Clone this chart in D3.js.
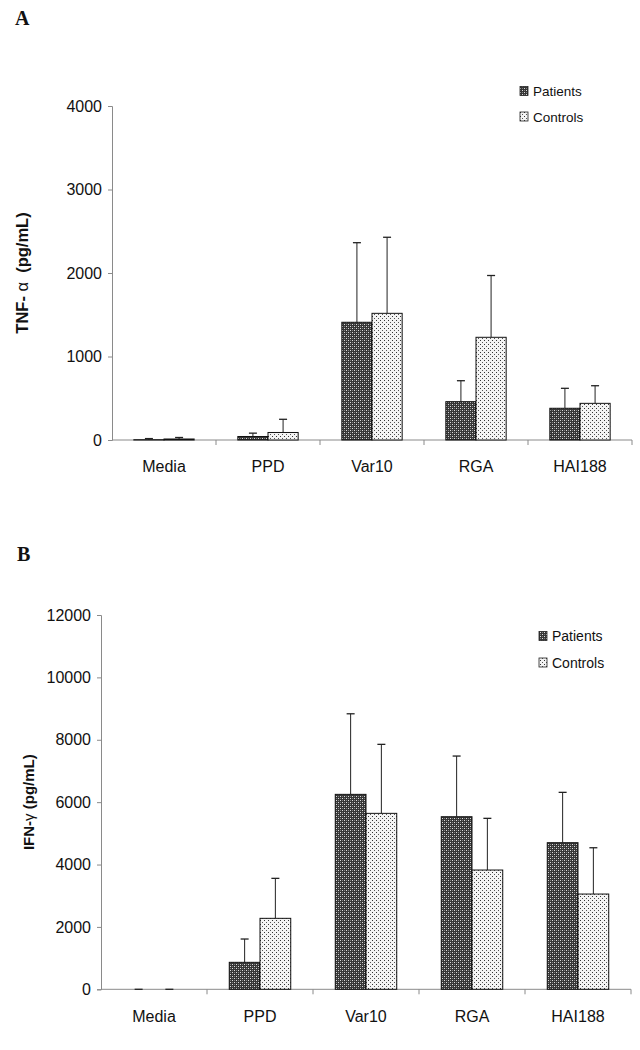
<!DOCTYPE html>
<html>
<head>
<meta charset="utf-8">
<script src="https://cdn.jsdelivr.net/npm/d3@7"></script>
<style>
  html, body { margin: 0; padding: 0; background: #fff; }
  svg { display: block; }
  text { font-family: "Liberation Sans", Arial, sans-serif; fill: #111; }
</style>
</head>
<body>
<script>
// ---- data ----
const categories = ["Media", "PPD", "Var10", "RGA", "HAI188"];
const seriesNames = ["Patients", "Controls"];

const tnfPatients   = [3, 42, 1410, 459, 380];
const tnfPatientsSD = [14, 40, 953, 251, 239];
const tnfControls   = [12, 90, 1517, 1230, 439];
const tnfControlsSD = [18, 158, 911, 740, 211];
const tnfTicks = [0, 1000, 2000, 3000, 4000];

const ifnPatients   = [0, 865, 6250, 5533, 4700];
const ifnPatientsSD = [0, 747, 2583, 1945, 1614];
const ifnControls   = [0, 2275, 5641, 3824, 3054];
const ifnControlsSD = [0, 1282, 2212, 1657, 1484];
const ifnTicks = [0, 2000, 4000, 6000, 8000, 10000, 12000];

// ---- svg ----
const svg = d3.select("body").append("svg").attr("width", 640).attr("height", 1050);
const defs = svg.append("defs");

const pPat = defs.append("pattern").attr("id", "patP").attr("patternUnits", "userSpaceOnUse")
  .attr("width", 4).attr("height", 4);
pPat.append("rect").attr("width", 4).attr("height", 4).attr("fill", "#363636");
pPat.append("rect").attr("x", 0).attr("y", 0).attr("width", 1).attr("height", 1).attr("fill", "#dcdcdc");
pPat.append("rect").attr("x", 2).attr("y", 2).attr("width", 1).attr("height", 1).attr("fill", "#dcdcdc");
pPat.append("rect").attr("x", 2).attr("y", 0).attr("width", 1).attr("height", 1).attr("fill", "#808080");
pPat.append("rect").attr("x", 0).attr("y", 2).attr("width", 1).attr("height", 1).attr("fill", "#808080");

const cPat = defs.append("pattern").attr("id", "patC").attr("patternUnits", "userSpaceOnUse")
  .attr("width", 4).attr("height", 4);
cPat.append("rect").attr("width", 4).attr("height", 4).attr("fill", "#f4f4f4");
cPat.append("rect").attr("x", 0).attr("y", 0).attr("width", 1).attr("height", 1).attr("fill", "#333");
cPat.append("rect").attr("x", 2).attr("y", 2).attr("width", 1).attr("height", 1).attr("fill", "#555");

const fills = ["url(#patP)", "url(#patC)"];

function panel(cfg) {
  const g = svg.append("g");
  const x0 = d3.scaleBand().domain(categories).range([cfg.left, cfg.right]).padding(0);
  const bw = x0.bandwidth() * 0.29;
  const y = d3.scaleLinear().domain([0, cfg.max]).range([cfg.bottom, cfg.top]);

  // panel letter
  g.append("text").attr("x", cfg.letterX).attr("y", cfg.letterY)
    .style("font-family", "'Liberation Serif', 'Times New Roman', serif")
    .style("font-weight", "bold").style("font-size", "20px").text(cfg.letter);

  // y axis
  const ya = d3.axisLeft(y).tickValues(cfg.ticks).tickSize(4).tickPadding(6).tickFormat(d3.format("d"));
  const yg = g.append("g").attr("transform", `translate(${cfg.left},0)`).call(ya);
  yg.select(".domain").attr("stroke", "#8a8a8a");
  yg.selectAll(".tick line").attr("stroke", "#8a8a8a");
  yg.selectAll(".tick text").style("font-size", cfg.tickFont + "px")
    .style("font-family", "'Liberation Sans', Arial, sans-serif").attr("fill", "#111");

  // x axis
  const xg = g.append("g").attr("transform", `translate(0,${cfg.bottom})`);
  xg.append("line").attr("x1", cfg.left).attr("x2", cfg.right).attr("y1", 0).attr("y2", 0).attr("stroke", "#8a8a8a");
  const bounds = categories.map(c => x0(c)).concat([cfg.right]);
  xg.selectAll("line.tk").data(bounds.slice(1)).enter().append("line").attr("class", "tk")
    .attr("x1", d => d).attr("x2", d => d).attr("y1", 0).attr("y2", 5).attr("stroke", "#8a8a8a");
  xg.selectAll("text").data(categories).enter().append("text")
    .attr("x", d => x0(d) + x0.bandwidth() / 2).attr("y", cfg.catY - cfg.bottom)
    .attr("text-anchor", "middle").style("font-size", "16px").text(d => d);

  // bars
  const series = [
    { vals: cfg.p, sd: cfg.pSD },
    { vals: cfg.c, sd: cfg.cSD }
  ];
  series.forEach((s, si) => {
    const data = categories.map((c, i) => ({ c, v: s.vals[i], sd: s.sd[i] }));
    const bx = d => x0(d.c) + x0.bandwidth() / 2 - bw + si * bw;
    const bg = g.append("g");
    bg.selectAll("line.err").data(data).enter().append("line").attr("class", "err")
      .attr("x1", d => bx(d) + bw / 2).attr("x2", d => bx(d) + bw / 2)
      .attr("y1", d => y(d.v)).attr("y2", d => y(d.v + d.sd))
      .attr("stroke", "#222").attr("stroke-width", 1);
    bg.selectAll("line.cap").data(data).enter().append("line").attr("class", "cap")
      .attr("x1", d => bx(d) + bw / 2 - 4).attr("x2", d => bx(d) + bw / 2 + 4)
      .attr("y1", d => y(d.v + d.sd)).attr("y2", d => y(d.v + d.sd))
      .attr("stroke", "#222").attr("stroke-width", 1.3);
    bg.selectAll("rect.bar").data(data.filter(d => d.v > 0)).enter().append("rect").attr("class", "bar")
      .attr("x", d => bx(d)).attr("width", bw)
      .attr("y", d => y(d.v)).attr("height", d => cfg.bottom - y(d.v))
      .attr("fill", fills[si]).attr("stroke", "#111").attr("stroke-width", 1);
  });

  // y title
  const t = g.append("text")
    .attr("transform", `translate(${cfg.titleX},${(cfg.top + cfg.bottom) / 2}) rotate(-90)`)
    .attr("text-anchor", "middle").style("font-weight", "bold").style("font-size", cfg.titleFont + "px");
  cfg.title.forEach(part => {
    const ts = t.append("tspan").text(part.t);
    if (part.normal) ts.style("font-weight", "normal");
  });

  // legend
  seriesNames.forEach((n, i) => {
    const ly = cfg.legY[i];
    g.append("rect").attr("x", cfg.legX).attr("y", ly - 4.5).attr("width", 8).attr("height", 9)
      .attr("fill", fills[i]).attr("stroke", "#222").attr("stroke-width", 0.8);
    g.append("text").attr("x", cfg.legX + 13).attr("y", ly + 5)
      .style("font-size", cfg.legFont + "px").text(n);
  });
}

panel({
  letter: "A", letterX: 15, letterY: 25,
  left: 112, right: 632, top: 106, bottom: 440, max: 4000, ticks: tnfTicks, tickFont: 16,
  catY: 472, p: tnfPatients, pSD: tnfPatientsSD, c: tnfControls, cSD: tnfControlsSD,
  titleX: 28, titleFont: 16.5,
  title: [{ t: "TNF- " }, { t: "\u03b1", normal: true }, { t: "\u00a0\u00a0(pg/mL)" }],
  legX: 520, legY: [91, 116.5], legFont: 13.5
});

panel({
  letter: "B", letterX: 17, letterY: 561,
  left: 101, right: 631, top: 615, bottom: 989.3, max: 12000, ticks: ifnTicks, tickFont: 16,
  catY: 1022, p: ifnPatients, pSD: ifnPatientsSD, c: ifnControls, cSD: ifnControlsSD,
  titleX: 34, titleFont: 15,
  title: [{ t: "IFN-" }, { t: "\u03b3", normal: true }, { t: " (pg/mL)" }],
  legX: 539, legY: [636, 662.5], legFont: 14
});
</script>
</body>
</html>
